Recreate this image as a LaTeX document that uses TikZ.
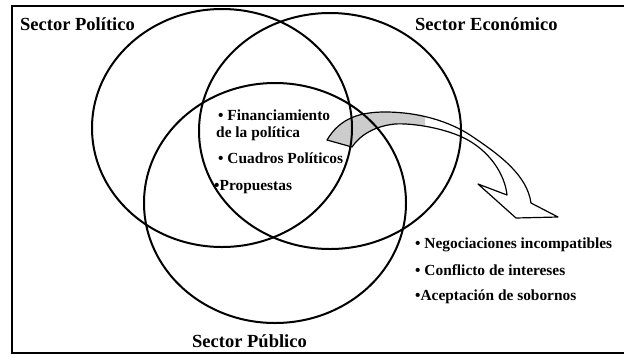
\documentclass[tikz,border=0pt]{standalone}
\usepackage{fontspec}
\setmainfont{Liberation Serif}
\tikzset{
    venn/.style={line width=2pt},
    sectorlabel/.style={anchor=base west,inner sep=0pt,font=\bfseries\fontsize{18.5}{20}\selectfont},
    itemlabel/.style={anchor=base west,inner sep=0pt,font=\bfseries\fontsize{15.4}{17}\selectfont}
}
\newcommand{\bendarrow}{(327,140) .. controls (340,118) and (360,112) .. (385,112)
    .. controls (420,112) and (450,122) .. (470,135)
    .. controls (500,155) and (527,175) .. (531,203)
    -- (558,217) -- (516,218) -- (478,184) -- (507,195)
    .. controls (505,175) and (490,150) .. (462,137)
    .. controls (440,127) and (410,123) .. (395,124)
    .. controls (375,126) and (360,135) .. (352,147) -- cycle}

\begin{document}
\begin{tikzpicture}[x=1pt,y=-1pt]
    \useasboundingbox (0,0) rectangle (624,357);
    \draw[line width=2pt] (12,6) rectangle (630,353);
    \begin{scope}
        \clip (300,90) rectangle (425,160);
        \fill[gray!40] \bendarrow;
    \end{scope}
    \draw[line width=1.2pt,line join=round] \bendarrow;
    \draw[venn] (222,128) ellipse (130pt and 119pt);
    \draw[venn] (330,131) ellipse (131pt and 118pt);
    \draw[venn] (275,203) ellipse (131pt and 120pt);
    \node[sectorlabel] (pol) at (20,30) {Sector Político};
    \node[sectorlabel] (eco) at (415,30) {Sector Económico};
    \node[sectorlabel] (pub) at (192,347) {Sector Público};
    \node[itemlabel] (fin) at (218,120) {• Financiamiento};
    \node[itemlabel] (fin2) at (216,137) {de la política};
    \node[itemlabel] (cua) at (218,163) {• Cuadros Políticos};
    \node[itemlabel] (pro) at (214,190) {•Propuestas};
    \node[itemlabel] (neg) at (415,248) {• Negociaciones incompatibles};
    \node[itemlabel] (con) at (415,275) {• Conflicto de intereses};
    \node[itemlabel] (ace) at (415,300) {•Aceptación de sobornos};
\end{tikzpicture}
\end{document}
